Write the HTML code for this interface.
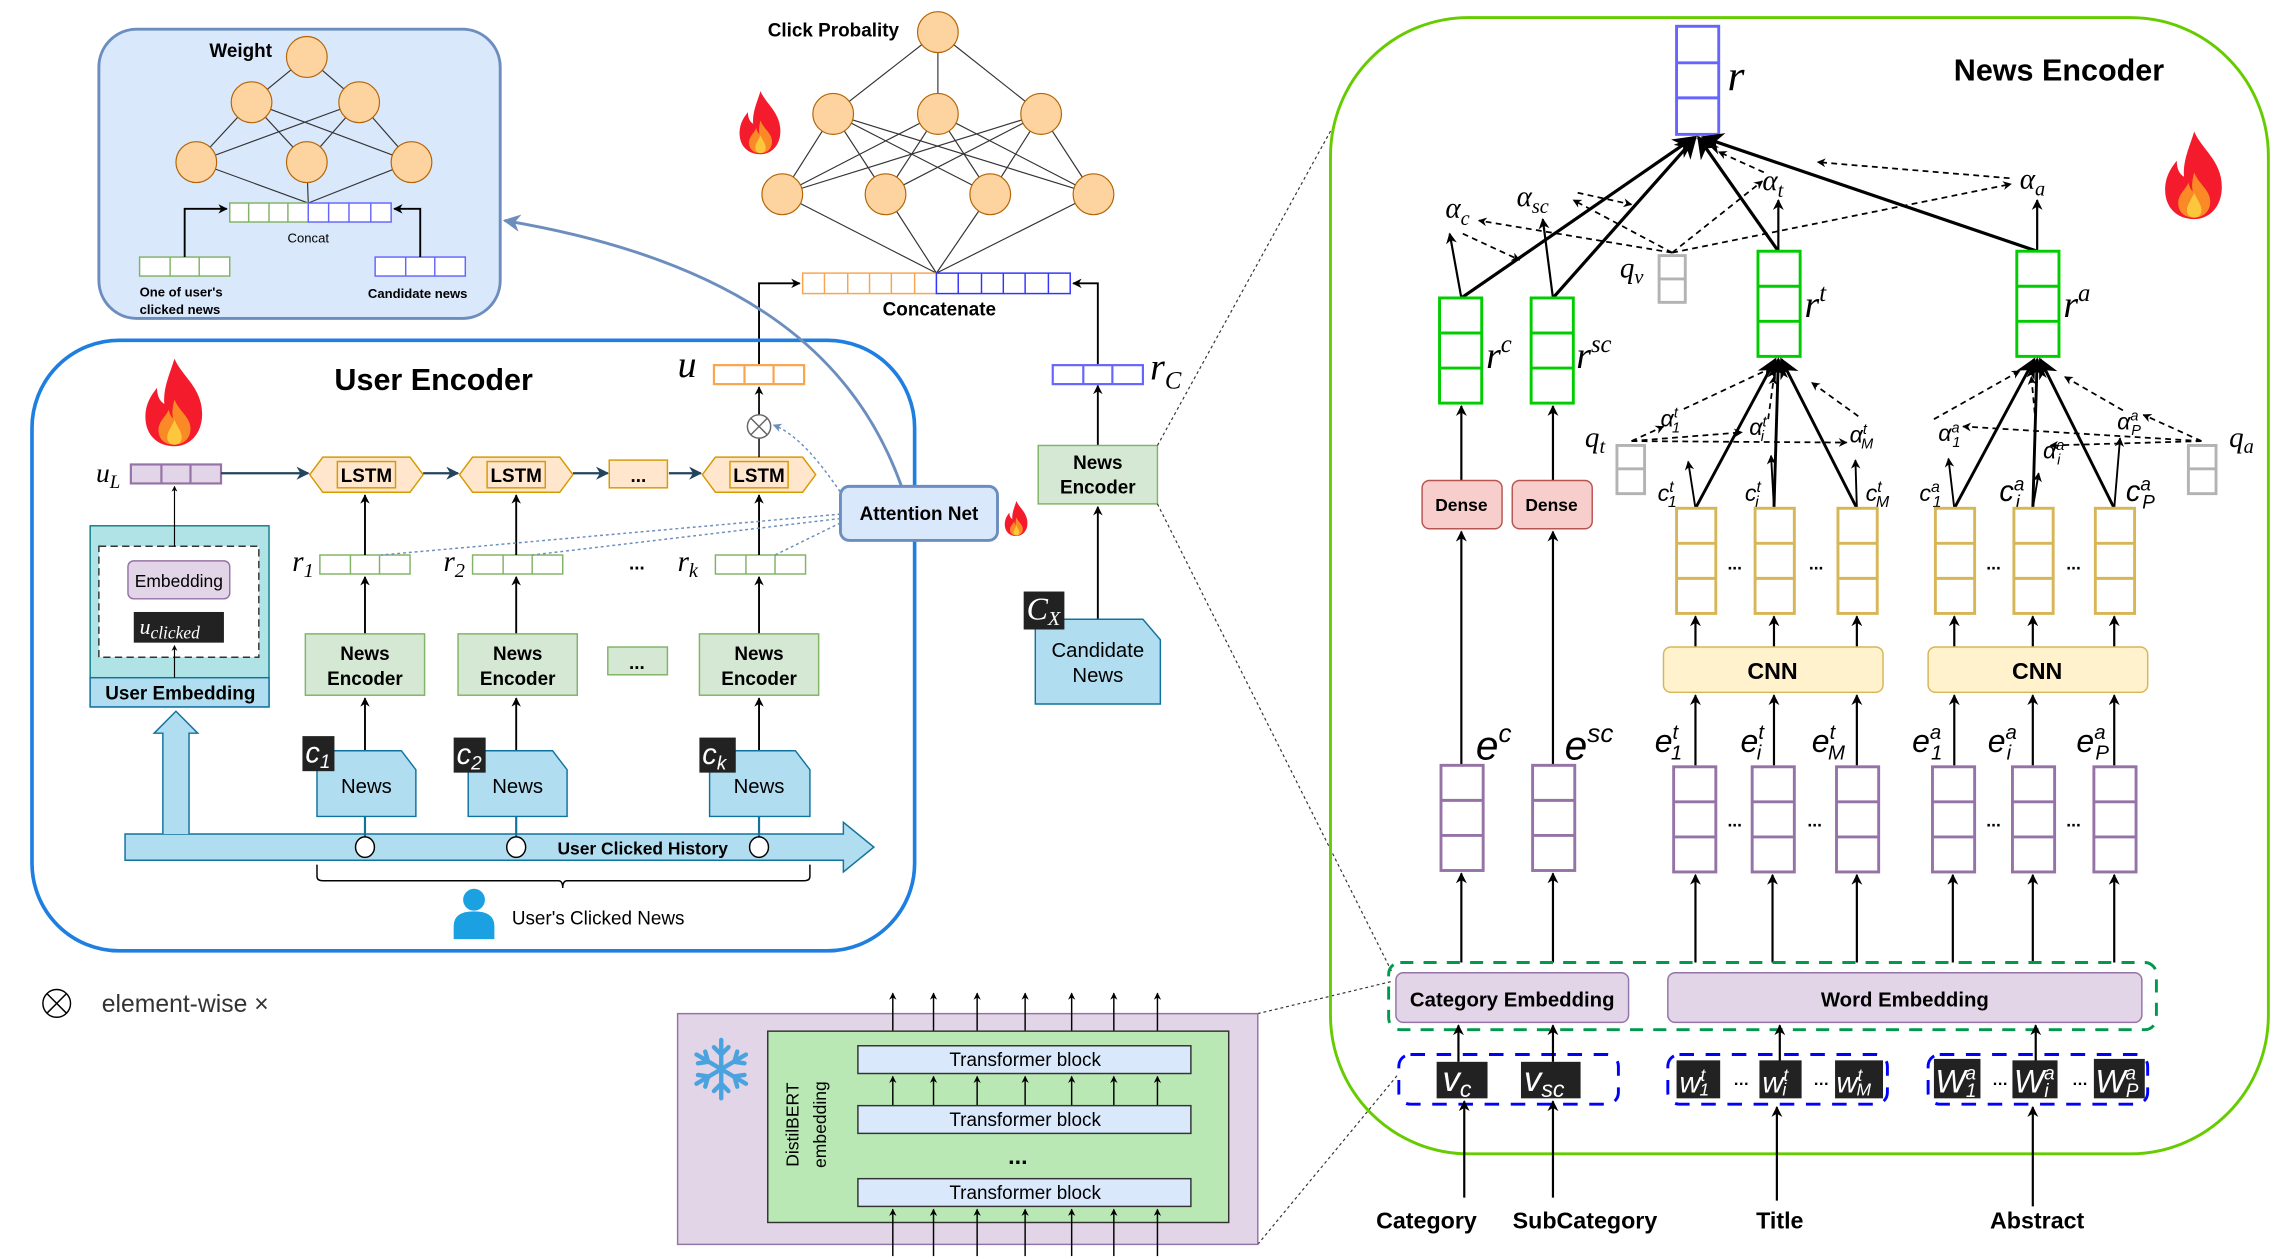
<!DOCTYPE html>
<html><head><meta charset="utf-8"><style>
html,body{margin:0;padding:0;background:#fff;}
svg{display:block;}
text{font-family:"Liberation Sans",sans-serif;}
.b{font-weight:bold;}
.m{font-family:"Liberation Serif",serif;font-style:italic;}
</style></head><body>
<svg width="2280" height="1259" viewBox="0 0 1568 862" preserveAspectRatio="none" xmlns="http://www.w3.org/2000/svg">
<defs>
<marker id="a" viewBox="0 0 10 10" refX="9" refY="5" markerWidth="7" markerHeight="7" orient="auto-start-reverse"><path d="M0,0 L10,5 L0,10 L3,5z" fill="#000"/></marker>
<marker id="as" viewBox="0 0 10 10" refX="9" refY="5" markerWidth="5" markerHeight="5" orient="auto"><path d="M0,0 L10,5 L0,10 L3,5z" fill="#000"/></marker>
<marker id="ab" viewBox="0 0 10 10" refX="9" refY="5" markerWidth="6" markerHeight="6" orient="auto"><path d="M0,0 L10,5 L0,10 L3,5z" fill="#6c8ebf"/></marker>
<marker id="an" viewBox="0 0 10 10" refX="9" refY="5" markerWidth="6" markerHeight="6" orient="auto"><path d="M0,0 L10,5 L0,10 L3,5z" fill="#23445d"/></marker>
<symbol id="fire" viewBox="0 0 50 60">
<path d="M25,0 C30,12 44,20 44,38 C44,52 35,60 25,60 C13,60 5,52 5,40 C5,30 10,24 13,20 C13,27 16,30 18,31 C17,20 22,10 25,0Z" fill="#f41c2c"/>
<path d="M25,28 C28,36 36,40 36,48 C36,55 31,59 25,59 C18,59 14,55 14,49 C14,43 19,40 21,35 C22,39 23,40 24,41 C23,36 24,32 25,28Z" fill="#fa8a25"/>
<path d="M25,42 C27,47 30,50 30,54 C30,57 28,59 25,59 C22,59 20,57 20,54 C20,50 23,47 25,42Z" fill="#fcc73c"/>
</symbol>
</defs>

<!-- Weight box -->
<rect x="68" y="20" width="276" height="198" rx="26" fill="#dae8fc" stroke="#6c8ebf" stroke-width="2"/>
<text x="144" y="39" class="b" font-size="13">Weight</text>
<g stroke="#333" stroke-width="0.8">
<line x1="211" y1="39" x2="173" y2="70"/><line x1="211" y1="39" x2="247" y2="70"/>
<line x1="173" y1="70" x2="135" y2="111"/><line x1="173" y1="70" x2="211" y2="111"/><line x1="173" y1="70" x2="283" y2="111"/>
<line x1="247" y1="70" x2="135" y2="111"/><line x1="247" y1="70" x2="211" y2="111"/><line x1="247" y1="70" x2="283" y2="111"/>
<line x1="135" y1="111" x2="212" y2="139"/><line x1="211" y1="111" x2="212" y2="139"/><line x1="283" y1="111" x2="212" y2="139"/>
</g>
<g fill="#fdd3a0" stroke="#b46504" stroke-width="0.8">
<circle cx="211" cy="39" r="14"/><circle cx="173" cy="70" r="14"/><circle cx="247" cy="70" r="14"/>
<circle cx="135" cy="111" r="14"/><circle cx="211" cy="111" r="14"/><circle cx="283" cy="111" r="14"/>
</g>
<g fill="#fff" stroke="#82b366"><rect x="158" y="139" width="54" height="13"/><line x1="171" y1="139" x2="171" y2="152"/><line x1="185" y1="139" x2="185" y2="152"/><line x1="198" y1="139" x2="198" y2="152"/></g>
<g fill="#fff" stroke="#6666ff"><rect x="212" y="139" width="57" height="13"/><line x1="226" y1="139" x2="226" y2="152"/><line x1="240" y1="139" x2="240" y2="152"/><line x1="255" y1="139" x2="255" y2="152"/></g>
<text x="212" y="166" font-size="9" text-anchor="middle">Concat</text>
<g fill="#fff" stroke="#82b366"><rect x="96" y="176" width="62" height="13"/><line x1="117" y1="176" x2="117" y2="189"/><line x1="137" y1="176" x2="137" y2="189"/></g>
<g fill="#fff" stroke="#6666ff"><rect x="258" y="176" width="62" height="13"/><line x1="279" y1="176" x2="279" y2="189"/><line x1="299" y1="176" x2="299" y2="189"/></g>
<path d="M127,176 V143 H156" fill="none" stroke="#000" stroke-width="1.3" marker-end="url(#as)"/>
<path d="M289,176 V143 H271" fill="none" stroke="#000" stroke-width="1.3" marker-end="url(#as)"/>
<text x="96" y="203" class="b" font-size="9">One of user's</text>
<text x="96" y="215" class="b" font-size="9">clicked news</text>
<text x="253" y="204" class="b" font-size="9">Candidate news</text>

<!-- Click probability -->
<text x="528" y="25" class="b" font-size="13">Click Probality</text>
<g stroke="#333" stroke-width="0.8">
<line x1="645" y1="22" x2="573" y2="78"/><line x1="645" y1="22" x2="645" y2="78"/><line x1="645" y1="22" x2="716" y2="78"/>
<g id="l2">
<line x1="573" y1="78" x2="538" y2="133"/><line x1="573" y1="78" x2="609" y2="133"/><line x1="573" y1="78" x2="681" y2="133"/><line x1="573" y1="78" x2="752" y2="133"/>
<line x1="645" y1="78" x2="538" y2="133"/><line x1="645" y1="78" x2="609" y2="133"/><line x1="645" y1="78" x2="681" y2="133"/><line x1="645" y1="78" x2="752" y2="133"/>
<line x1="716" y1="78" x2="538" y2="133"/><line x1="716" y1="78" x2="609" y2="133"/><line x1="716" y1="78" x2="681" y2="133"/><line x1="716" y1="78" x2="752" y2="133"/>
</g>
<line x1="538" y1="133" x2="644" y2="187"/><line x1="609" y1="133" x2="644" y2="187"/><line x1="681" y1="133" x2="644" y2="187"/><line x1="752" y1="133" x2="644" y2="187"/>
</g>
<g fill="#fdd3a0" stroke="#b46504" stroke-width="0.8">
<circle cx="645" cy="22" r="14"/><circle cx="573" cy="78" r="14"/><circle cx="645" cy="78" r="14"/><circle cx="716" cy="78" r="14"/>
<circle cx="538" cy="133" r="14"/><circle cx="609" cy="133" r="14"/><circle cx="681" cy="133" r="14"/><circle cx="752" cy="133" r="14"/>
</g>
<use href="#fire" x="505" y="60" width="36" height="48"/>
<g fill="#fff" stroke="#f8a54e"><rect x="552" y="187" width="92" height="14"/>
<line x1="567" y1="187" x2="567" y2="201"/><line x1="583" y1="187" x2="583" y2="201"/><line x1="598" y1="187" x2="598" y2="201"/><line x1="613" y1="187" x2="613" y2="201"/><line x1="629" y1="187" x2="629" y2="201"/></g>
<g fill="#fff" stroke="#3333ff"><rect x="644" y="187" width="92" height="14"/>
<line x1="659" y1="187" x2="659" y2="201"/><line x1="675" y1="187" x2="675" y2="201"/><line x1="690" y1="187" x2="690" y2="201"/><line x1="705" y1="187" x2="705" y2="201"/><line x1="721" y1="187" x2="721" y2="201"/></g>
<text x="646" y="216" class="b" font-size="13" text-anchor="middle">Concatenate</text>

<!-- u and rC -->
<path d="M522,250 V194 H550" fill="none" stroke="#000" stroke-width="1.3" marker-end="url(#as)"/>
<path d="M755,305 V264" fill="none" stroke="#000" stroke-width="1.3" marker-end="url(#as)"/>
<path d="M755,250 V194 H738" fill="none" stroke="#000" stroke-width="1.3" marker-end="url(#as)"/>
<g fill="#fff" stroke="#f8a54e" stroke-width="1.5"><rect x="491" y="250" width="62" height="13"/><line x1="512" y1="250" x2="512" y2="263"/><line x1="532" y1="250" x2="532" y2="263"/></g>
<text x="466" y="258" class="m" font-size="26">u</text>
<g fill="#fff" stroke="#6666ff" stroke-width="1.5"><rect x="724" y="250" width="62" height="13"/><line x1="745" y1="250" x2="745" y2="263"/><line x1="765" y1="250" x2="765" y2="263"/></g>
<text x="791" y="260" class="m" font-size="26">r<tspan font-size="17" dy="6">C</tspan></text>

<!-- User encoder -->
<rect x="22" y="233" width="607" height="418" rx="60" fill="none" stroke="#1e7fe0" stroke-width="2.5"/>
<text x="230" y="267" class="b" font-size="21">User Encoder</text>
<use href="#fire" x="95" y="243" width="50" height="65"/>
<text x="66" y="330" class="m" font-size="19">u<tspan font-size="13" dy="4">L</tspan></text>
<g fill="#e1d5e7" stroke="#9673a6" stroke-width="1.5"><rect x="90" y="318" width="62" height="13"/><line x1="111" y1="318" x2="111" y2="331"/><line x1="131" y1="318" x2="131" y2="331"/></g>
<g stroke="#23445d" stroke-width="1.5" fill="none">
<line x1="152" y1="324" x2="212" y2="324" marker-end="url(#an)"/>
<line x1="291" y1="324" x2="315" y2="324" marker-end="url(#an)"/>
<line x1="394" y1="324" x2="418" y2="324" marker-end="url(#an)"/>
<line x1="460" y1="324" x2="482" y2="324" marker-end="url(#an)"/>
</g>
<g fill="#ffe6cc" stroke="#d79b00">
<polygon points="222,313 282,313 291,325 282,337 222,337 213,325"/><rect x="232" y="316" width="40" height="18"/>
<polygon points="325,313 385,313 394,325 385,337 325,337 316,325"/><rect x="335" y="316" width="40" height="18"/>
<polygon points="492,313 552,313 561,325 552,337 492,337 483,325"/><rect x="502" y="316" width="40" height="18"/>
<rect x="419" y="315" width="40" height="19"/>
</g>
<text x="252" y="330" class="b" font-size="13" text-anchor="middle">LSTM</text>
<text x="355" y="330" class="b" font-size="13" text-anchor="middle">LSTM</text>
<text x="522" y="330" class="b" font-size="13" text-anchor="middle">LSTM</text>
<text x="439" y="330" class="b" font-size="13" text-anchor="middle">...</text>
<line x1="522" y1="313" x2="522" y2="300" stroke="#000"/>
<line x1="522" y1="284" x2="522" y2="265" stroke="#000" stroke-width="1.2" marker-end="url(#as)"/>
<circle cx="522" cy="292" r="8" fill="#fff" stroke="#666"/><path d="M516,286 L528,298 M528,286 L516,298" stroke="#666"/>
<!-- r bars -->
<g fill="#fff" stroke="#82b366">
<rect x="220" y="380" width="62" height="13"/><line x1="241" y1="380" x2="241" y2="393"/><line x1="261" y1="380" x2="261" y2="393"/>
<rect x="325" y="380" width="62" height="13"/><line x1="346" y1="380" x2="346" y2="393"/><line x1="366" y1="380" x2="366" y2="393"/>
<rect x="492" y="380" width="62" height="13"/><line x1="513" y1="380" x2="513" y2="393"/><line x1="533" y1="380" x2="533" y2="393"/>
</g>
<text x="201" y="391" class="m" font-size="20">r<tspan font-size="14" dy="4">1</tspan></text>
<text x="305" y="391" class="m" font-size="20">r<tspan font-size="14" dy="4">2</tspan></text>
<text x="466" y="391" class="m" font-size="20">r<tspan font-size="14" dy="4">k</tspan></text>
<text x="438" y="390" class="b" font-size="13" text-anchor="middle">...</text>
<g stroke="#000" stroke-width="1.3" fill="none" marker-end="url(#as)">
<line x1="251" y1="380" x2="251" y2="339"/><line x1="355" y1="380" x2="355" y2="339"/><line x1="522" y1="380" x2="522" y2="339"/>
<line x1="251" y1="434" x2="251" y2="395"/><line x1="355" y1="434" x2="355" y2="395"/><line x1="522" y1="434" x2="522" y2="395"/>
<line x1="251" y1="514" x2="251" y2="478"/><line x1="355" y1="514" x2="355" y2="478"/><line x1="522" y1="514" x2="522" y2="478"/>
</g>
<g fill="#d5e8d4" stroke="#82b366">
<rect x="210" y="434" width="82" height="42"/><rect x="315" y="434" width="82" height="42"/><rect x="481" y="434" width="82" height="42"/><rect x="418" y="443" width="41" height="19"/>
</g>
<g class="b" font-size="13" text-anchor="middle">
<text x="251" y="452">News</text><text x="251" y="469">Encoder</text>
<text x="356" y="452">News</text><text x="356" y="469">Encoder</text>
<text x="522" y="452">News</text><text x="522" y="469">Encoder</text>
<text x="438" y="458">...</text>
</g>
<!-- history -->
<path d="M86,571 H580 V563 L601,580 L580,597 V589 H86Z" fill="#b1ddf0" stroke="#10739e"/>
<g stroke="#10739e" stroke-width="1.5"><line x1="251" y1="559" x2="251" y2="573"/><line x1="355" y1="559" x2="355" y2="573"/><line x1="522" y1="559" x2="522" y2="573"/></g>
<g fill="#fff" stroke="#000"><ellipse cx="251" cy="580" rx="6.5" ry="7"/><ellipse cx="355" cy="580" rx="6.5" ry="7"/><ellipse cx="522" cy="580" rx="6.5" ry="7"/></g>
<text x="442" y="585" class="b" font-size="12" text-anchor="middle">User Clicked History</text>
<g fill="#b1ddf0" stroke="#10739e">
<path d="M218,514 H276 L286,527 V559 H218Z"/><path d="M322,514 H380 L390,527 V559 H322Z"/><path d="M488,514 H547 L557,527 V559 H488Z"/>
</g>
<g font-size="14" text-anchor="middle"><text x="252" y="543">News</text><text x="356" y="543">News</text><text x="522" y="543">News</text></g>
<g fill="#222"><rect x="208" y="504" width="22" height="24"/><rect x="312" y="505" width="22" height="24"/><rect x="481" y="505" width="25" height="24"/></g>
<g fill="#fff" class="m" font-size="20"><text x="210" y="522">c<tspan font-size="13" dy="4">1</tspan></text><text x="314" y="523">c<tspan font-size="13" dy="4">2</tspan></text><text x="483" y="523">c<tspan font-size="13" dy="4">k</tspan></text></g>
<path d="M218,592 V600 Q218,603 222,603 H384 Q387,603 387,608 Q387,603 390,603 H553 Q557,603 557,600 V592" fill="none" stroke="#000" stroke-width="1"/>
<circle cx="326" cy="616" r="7.5" fill="#1ba1e2"/><path d="M312,643 V634 Q312,624 326,624 Q340,624 340,634 V643Z" fill="#1ba1e2"/>
<text x="352" y="633" font-size="13">User's Clicked News</text>
<!-- user embedding -->
<path d="M112,571 V502 H106 L121,487 L136,502 H130 V571" fill="#b1ddf0" stroke="#10739e"/>
<rect x="62" y="360" width="123" height="124" fill="#b0e3e6" stroke="#0e8088"/>
<rect x="62" y="464" width="123" height="20" fill="#b1ddf0" stroke="#10739e"/>
<text x="124" y="479" class="b" font-size="13" text-anchor="middle">User Embedding</text>
<rect x="68" y="374" width="110" height="76" fill="#fff" stroke="#333" stroke-dasharray="5,3"/>
<rect x="88" y="384" width="70" height="26" rx="4" fill="#e1d5e7" stroke="#9673a6"/>
<text x="123" y="402" font-size="12" text-anchor="middle">Embedding</text>
<rect x="92" y="419" width="62" height="21" fill="#222"/>
<text x="96" y="434" class="m" font-size="15" fill="#fff">u<tspan font-size="12" dy="3">clicked</tspan></text>
<line x1="120" y1="464" x2="120" y2="442" stroke="#000" stroke-width="0.8" marker-end="url(#as)"/>
<line x1="120" y1="374" x2="120" y2="333" stroke="#000" stroke-width="0.8" marker-end="url(#as)"/>

<!-- Attention Net -->
<path d="M620,333 C590,250 520,180 347,151" fill="none" stroke="#6c8ebf" stroke-width="2" marker-end="url(#ab)"/>
<g stroke="#6c8ebf" stroke-width="1" stroke-dasharray="2,2" fill="none">
<path d="M580,340 C560,310 545,296 532,291" marker-end="url(#ab)"/>
<line x1="578" y1="352" x2="262" y2="380"/><line x1="578" y1="355" x2="366" y2="380"/><line x1="578" y1="358" x2="533" y2="380"/>
</g>
<rect x="578" y="333" width="108" height="37" rx="6" fill="#dae8fc" stroke="#6c8ebf" stroke-width="2"/>
<text x="632" y="356" class="b" font-size="13" text-anchor="middle">Attention Net</text>
<use href="#fire" x="689" y="342" width="20" height="26"/>
<!-- candidate -->
<rect x="714" y="305" width="82" height="40" fill="#d5e8d4" stroke="#82b366"/>
<text x="755" y="321" class="b" font-size="13" text-anchor="middle">News</text><text x="755" y="338" class="b" font-size="13" text-anchor="middle">Encoder</text>
<line x1="755" y1="424" x2="755" y2="347" stroke="#000" stroke-width="1.3" marker-end="url(#as)"/>
<path d="M712,424 H786 L798,438 V482 H712Z" fill="#b1ddf0" stroke="#10739e"/>
<text x="755" y="450" font-size="14" text-anchor="middle">Candidate</text><text x="755" y="467" font-size="14" text-anchor="middle">News</text>
<rect x="704" y="405" width="28" height="26" fill="#222"/>
<text x="706" y="424" class="m" font-size="22" fill="#fff">C<tspan font-size="14" dy="4">X</tspan></text>
<g stroke="#333" stroke-width="0.8" stroke-dasharray="2,2" fill="none">
<line x1="796" y1="305" x2="916" y2="88"/><line x1="796" y1="345" x2="957" y2="665"/>
<line x1="865" y1="694" x2="957" y2="672"/><line x1="865" y1="852" x2="962" y2="735"/>
</g>

<!-- legend -->
<circle cx="39" cy="687" r="9.5" fill="#fff" stroke="#000"/><path d="M32.3,680.3 L45.7,693.7 M45.7,680.3 L32.3,693.7" stroke="#000"/>
<text x="70" y="693" font-size="17" fill="#333">element-wise ×</text>

<!-- DistilBERT -->
<rect x="466" y="694" width="399" height="158" fill="#e1d5e7" stroke="#9673a6"/>
<g stroke="#000" stroke-width="1" marker-end="url(#as)">
<line x1="614" y1="708" x2="614" y2="680"/><line x1="642" y1="708" x2="642" y2="680"/><line x1="672" y1="708" x2="672" y2="680"/><line x1="705" y1="708" x2="705" y2="680"/><line x1="737" y1="708" x2="737" y2="680"/><line x1="766" y1="708" x2="766" y2="680"/><line x1="796" y1="708" x2="796" y2="680"/>
</g>
<rect x="528" y="706" width="317" height="131" fill="#b9e8b5" stroke="#333"/>
<g stroke="#000" stroke-width="1" marker-end="url(#as)">
<line x1="614" y1="757" x2="614" y2="737"/><line x1="642" y1="757" x2="642" y2="737"/><line x1="672" y1="757" x2="672" y2="737"/><line x1="705" y1="757" x2="705" y2="737"/><line x1="737" y1="757" x2="737" y2="737"/><line x1="766" y1="757" x2="766" y2="737"/><line x1="796" y1="757" x2="796" y2="737"/>
<line x1="614" y1="860" x2="614" y2="828"/><line x1="642" y1="860" x2="642" y2="828"/><line x1="672" y1="860" x2="672" y2="828"/><line x1="705" y1="860" x2="705" y2="828"/><line x1="737" y1="860" x2="737" y2="828"/><line x1="766" y1="860" x2="766" y2="828"/><line x1="796" y1="860" x2="796" y2="828"/>
</g>
<g fill="#dae8fc" stroke="#333"><rect x="590" y="716" width="229" height="19"/><rect x="590" y="757" width="229" height="19"/><rect x="590" y="807" width="229" height="19"/></g>
<g font-size="13" text-anchor="middle"><text x="705" y="730">Transformer block</text><text x="705" y="771">Transformer block</text><text x="705" y="821">Transformer block</text></g>
<text x="700" y="797" class="b" font-size="16" text-anchor="middle">...</text>
<text transform="translate(549,770) rotate(-90)" font-size="12" text-anchor="middle">DistilBERT</text>
<text transform="translate(568,770) rotate(-90)" font-size="12" text-anchor="middle">embedding</text>
<g stroke="#4aa3df" stroke-width="3" stroke-linecap="round" transform="translate(496,732)">
<line x1="0" y1="-20" x2="0" y2="20"/><line x1="-17" y1="-10" x2="17" y2="10"/><line x1="-17" y1="10" x2="17" y2="-10"/>
<path d="M-5,-15 L0,-10 L5,-15 M-5,15 L0,10 L5,15" fill="none"/>
<path d="M-16,-4 L-9,-5 L-11,-12 M16,4 L9,5 L11,12 M16,-4 L9,-5 L11,-12 M-16,4 L-9,5 L-11,12" fill="none"/>
</g>

<!-- News Encoder big -->
<rect x="915" y="12" width="645" height="778" rx="95" fill="none" stroke="#66cc00" stroke-width="2"/>
<text x="1416" y="55" class="b" font-size="21" text-anchor="middle">News Encoder</text>
<use href="#fire" x="1484" y="86" width="50" height="68"/>
<!-- r -->
<g fill="#fff" stroke="#6666ff" stroke-width="2"><rect x="1153" y="18" width="29" height="74"/><line x1="1153" y1="43" x2="1182" y2="43"/><line x1="1153" y1="67" x2="1182" y2="67"/></g>
<text x="1188" y="62" class="m" font-size="30">r</text>
<!-- solid to r -->
<g stroke="#000" stroke-width="2.2" fill="none" marker-end="url(#a)">
<line x1="1005" y1="204" x2="1165" y2="94"/><line x1="1068" y1="204" x2="1166" y2="94"/><line x1="1223" y1="172" x2="1168" y2="94"/><line x1="1401" y1="172" x2="1171" y2="94"/>
</g>
<g stroke="#000" stroke-width="1.5" fill="none" marker-end="url(#as)">
<line x1="1005" y1="204" x2="997" y2="160"/><line x1="1068" y1="204" x2="1061" y2="150"/><line x1="1223" y1="172" x2="1223" y2="137"/><line x1="1401" y1="172" x2="1401" y2="137"/>
</g>
<g stroke="#000" stroke-width="1.2" stroke-dasharray="4,3" fill="none" marker-end="url(#as)">
<line x1="1150" y1="173" x2="1017" y2="151"/><line x1="1150" y1="173" x2="1082" y2="137"/><line x1="1150" y1="173" x2="1212" y2="124"/><line x1="1150" y1="173" x2="1383" y2="126"/>
<line x1="1006" y1="160" x2="1045" y2="178"/><line x1="1085" y1="132" x2="1122" y2="140"/><line x1="1213" y1="118" x2="1182" y2="104"/><line x1="1382" y1="122" x2="1250" y2="111"/>
</g>
<text x="994" y="149" class="m" font-size="20">α<tspan font-size="14" dy="5">c</tspan></text>
<text x="1043" y="141" class="m" font-size="20">α<tspan font-size="14" dy="5">sc</tspan></text>
<text x="1212" y="130" class="m" font-size="20">α<tspan font-size="14" dy="5">t</tspan></text>
<text x="1389" y="129" class="m" font-size="20">α<tspan font-size="14" dy="5">a</tspan></text>
<g fill="#fff" stroke="#b3b3b3" stroke-width="2">
<rect x="1141" y="175" width="18" height="32"/><line x1="1141" y1="191" x2="1159" y2="191"/>
<rect x="1112" y="305" width="19" height="33"/><line x1="1112" y1="321" x2="1131" y2="321"/>
<rect x="1505" y="305" width="19" height="33"/><line x1="1505" y1="321" x2="1524" y2="321"/>
</g>
<text x="1114" y="190" class="m" font-size="20">q<tspan font-size="14" dy="4">v</tspan></text>
<text x="1090" y="306" class="m" font-size="20">q<tspan font-size="14" dy="4">t</tspan></text>
<text x="1533" y="306" class="m" font-size="20">q<tspan font-size="14" dy="4">a</tspan></text>
<!-- green bars -->
<g fill="#fff" stroke="#00cc00" stroke-width="2">
<rect x="990" y="204" width="29" height="72"/><line x1="990" y1="228" x2="1019" y2="228"/><line x1="990" y1="252" x2="1019" y2="252"/>
<rect x="1053" y="204" width="29" height="72"/><line x1="1053" y1="228" x2="1082" y2="228"/><line x1="1053" y1="252" x2="1082" y2="252"/>
<rect x="1209" y="172" width="29" height="72"/><line x1="1209" y1="196" x2="1238" y2="196"/><line x1="1209" y1="220" x2="1238" y2="220"/>
<rect x="1387" y="172" width="29" height="72"/><line x1="1387" y1="196" x2="1416" y2="196"/><line x1="1387" y1="220" x2="1416" y2="220"/>
</g>
<text x="1022" y="252" class="m" font-size="26">r<tspan font-size="17" dy="-11">c</tspan></text>
<text x="1084" y="252" class="m" font-size="26">r<tspan font-size="17" dy="-11">sc</tspan></text>
<text x="1241" y="217" class="m" font-size="26">r<tspan font-size="17" dy="-11">t</tspan></text>
<text x="1419" y="217" class="m" font-size="26">r<tspan font-size="17" dy="-11">a</tspan></text>
<!-- Dense -->
<g stroke="#000" stroke-width="1.5" marker-end="url(#as)">
<line x1="1005" y1="329" x2="1005" y2="278"/><line x1="1068" y1="329" x2="1068" y2="278"/>
<line x1="1005" y1="524" x2="1005" y2="364"/><line x1="1068" y1="524" x2="1068" y2="364"/>
</g>
<g fill="#f8cecc" stroke="#b85450"><rect x="978" y="329" width="55" height="33" rx="5"/><rect x="1040" y="329" width="55" height="33" rx="5"/></g>
<text x="1005" y="350" class="b" font-size="12" text-anchor="middle">Dense</text><text x="1067" y="350" class="b" font-size="12" text-anchor="middle">Dense</text>
<!-- title/abstract attention -->
<g stroke="#000" stroke-width="2" fill="none" marker-end="url(#a)">
<line x1="1166" y1="348" x2="1221" y2="246"/><line x1="1220" y1="348" x2="1223" y2="246"/><line x1="1277" y1="348" x2="1225" y2="246"/>
<line x1="1344" y1="348" x2="1399" y2="246"/><line x1="1398" y1="348" x2="1401" y2="246"/><line x1="1454" y1="348" x2="1403" y2="246"/>
</g>
<g stroke="#000" stroke-width="1.3" fill="none" marker-end="url(#as)">
<line x1="1166" y1="348" x2="1161" y2="316"/><line x1="1220" y1="348" x2="1218" y2="312"/><line x1="1277" y1="348" x2="1276" y2="315"/>
<line x1="1344" y1="348" x2="1340" y2="314"/><line x1="1398" y1="348" x2="1402" y2="324"/><line x1="1454" y1="348" x2="1458" y2="300"/>
</g>
<g stroke="#000" stroke-width="1.2" stroke-dasharray="4,3" fill="none" marker-end="url(#as)">
<line x1="1122" y1="302" x2="1144" y2="292"/><line x1="1122" y1="302" x2="1198" y2="296"/><line x1="1122" y1="302" x2="1270" y2="303"/>
<line x1="1158" y1="280" x2="1218" y2="252"/><line x1="1216" y1="287" x2="1220" y2="258"/><line x1="1278" y1="285" x2="1246" y2="262"/>
<line x1="1514" y1="302" x2="1350" y2="292"/><line x1="1514" y1="302" x2="1410" y2="305"/><line x1="1514" y1="302" x2="1474" y2="284"/>
<line x1="1330" y1="287" x2="1389" y2="254"/><line x1="1400" y1="290" x2="1397" y2="258"/><line x1="1460" y1="281" x2="1420" y2="258"/>
</g>
<g class="m" font-size="16">
<text x="1142" y="292">α<tspan font-size="10" dy="-6">t</tspan><tspan font-size="10" dx="-4" dy="10">1</tspan></text>
<text x="1203" y="298">α<tspan font-size="10" dy="-6">t</tspan><tspan font-size="10" dx="-4" dy="10">i</tspan></text>
<text x="1272" y="303">α<tspan font-size="10" dy="-6">t</tspan><tspan font-size="10" dx="-4" dy="10">M</tspan></text>
<text x="1140" y="343">c<tspan font-size="11" dy="-6">t</tspan><tspan font-size="11" dx="-4" dy="10">1</tspan></text>
<text x="1200" y="343">c<tspan font-size="11" dy="-6">t</tspan><tspan font-size="11" dx="-4" dy="10">i</tspan></text>
<text x="1283" y="343">c<tspan font-size="11" dy="-6">t</tspan><tspan font-size="11" dx="-4" dy="10">M</tspan></text>
<text x="1333" y="302">α<tspan font-size="10" dy="-6">a</tspan><tspan font-size="10" dx="-5" dy="10">1</tspan></text>
<text x="1405" y="314">α<tspan font-size="10" dy="-6">a</tspan><tspan font-size="10" dx="-5" dy="10">i</tspan></text>
<text x="1456" y="294">α<tspan font-size="10" dy="-6">a</tspan><tspan font-size="10" dx="-5" dy="10">P</tspan></text>
<text x="1320" y="343">c<tspan font-size="11" dy="-6">a</tspan><tspan font-size="11" dx="-5" dy="10">1</tspan></text>
<text x="1375" y="343" font-size="20">c<tspan font-size="13" dy="-7">a</tspan><tspan font-size="13" dx="-6" dy="12">i</tspan></text>
<text x="1462" y="343" font-size="20">c<tspan font-size="13" dy="-7">a</tspan><tspan font-size="13" dx="-6" dy="12">P</tspan></text>
</g>
<!-- yellow bars -->
<g fill="#fff" stroke="#d6b656" stroke-width="2">
<rect x="1153" y="348" width="27" height="72"/><line x1="1153" y1="372" x2="1180" y2="372"/><line x1="1153" y1="396" x2="1180" y2="396"/>
<rect x="1207" y="348" width="27" height="72"/><line x1="1207" y1="372" x2="1234" y2="372"/><line x1="1207" y1="396" x2="1234" y2="396"/>
<rect x="1264" y="348" width="27" height="72"/><line x1="1264" y1="372" x2="1291" y2="372"/><line x1="1264" y1="396" x2="1291" y2="396"/>
<rect x="1331" y="348" width="27" height="72"/><line x1="1331" y1="372" x2="1358" y2="372"/><line x1="1331" y1="396" x2="1358" y2="396"/>
<rect x="1385" y="348" width="27" height="72"/><line x1="1385" y1="372" x2="1412" y2="372"/><line x1="1385" y1="396" x2="1412" y2="396"/>
<rect x="1441" y="348" width="27" height="72"/><line x1="1441" y1="372" x2="1468" y2="372"/><line x1="1441" y1="396" x2="1468" y2="396"/>
</g>
<g class="b" font-size="12" text-anchor="middle">
<text x="1193" y="390">...</text><text x="1249" y="390">...</text><text x="1371" y="390">...</text><text x="1426" y="390">...</text>
<text x="1193" y="566">...</text><text x="1248" y="566">...</text><text x="1371" y="566">...</text><text x="1426" y="566">...</text>
</g>
<g stroke="#000" stroke-width="1.5" marker-end="url(#as)">
<line x1="1166" y1="443" x2="1166" y2="422"/><line x1="1220" y1="443" x2="1220" y2="422"/><line x1="1277" y1="443" x2="1277" y2="422"/>
<line x1="1344" y1="443" x2="1344" y2="422"/><line x1="1398" y1="443" x2="1398" y2="422"/><line x1="1454" y1="443" x2="1454" y2="422"/>
<line x1="1166" y1="524" x2="1166" y2="476"/><line x1="1220" y1="524" x2="1220" y2="476"/><line x1="1277" y1="524" x2="1277" y2="476"/>
<line x1="1344" y1="524" x2="1344" y2="476"/><line x1="1398" y1="524" x2="1398" y2="476"/><line x1="1454" y1="524" x2="1454" y2="476"/>
</g>
<g fill="#fff2cc" stroke="#d6b656"><rect x="1144" y="443" width="151" height="31" rx="5"/><rect x="1326" y="443" width="151" height="31" rx="5"/></g>
<text x="1219" y="465" class="b" font-size="16" text-anchor="middle">CNN</text><text x="1401" y="465" class="b" font-size="16" text-anchor="middle">CNN</text>
<!-- e bars -->
<g fill="#fff" stroke="#9673a6" stroke-width="2">
<rect x="991" y="524" width="29" height="72"/><line x1="991" y1="548" x2="1020" y2="548"/><line x1="991" y1="572" x2="1020" y2="572"/>
<rect x="1054" y="524" width="29" height="72"/><line x1="1054" y1="548" x2="1083" y2="548"/><line x1="1054" y1="572" x2="1083" y2="572"/>
<rect x="1151" y="525" width="29" height="72"/><line x1="1151" y1="549" x2="1180" y2="549"/><line x1="1151" y1="573" x2="1180" y2="573"/>
<rect x="1205" y="525" width="29" height="72"/><line x1="1205" y1="549" x2="1234" y2="549"/><line x1="1205" y1="573" x2="1234" y2="573"/>
<rect x="1263" y="525" width="29" height="72"/><line x1="1263" y1="549" x2="1292" y2="549"/><line x1="1263" y1="573" x2="1292" y2="573"/>
<rect x="1329" y="525" width="29" height="72"/><line x1="1329" y1="549" x2="1358" y2="549"/><line x1="1329" y1="573" x2="1358" y2="573"/>
<rect x="1384" y="525" width="29" height="72"/><line x1="1384" y1="549" x2="1413" y2="549"/><line x1="1384" y1="573" x2="1413" y2="573"/>
<rect x="1440" y="525" width="29" height="72"/><line x1="1440" y1="549" x2="1469" y2="549"/><line x1="1440" y1="573" x2="1469" y2="573"/>
</g>
<g class="m">
<text x="1015" y="520" font-size="28">e<tspan font-size="18" dy="-12">c</tspan></text>
<text x="1076" y="520" font-size="28">e<tspan font-size="18" dy="-12">sc</tspan></text>
<text x="1138" y="515" font-size="22">e<tspan font-size="14" dy="-9">t</tspan><tspan font-size="14" dx="-5" dy="14">1</tspan></text>
<text x="1197" y="515" font-size="22">e<tspan font-size="14" dy="-9">t</tspan><tspan font-size="14" dx="-5" dy="14">i</tspan></text>
<text x="1246" y="515" font-size="22">e<tspan font-size="14" dy="-9">t</tspan><tspan font-size="14" dx="-5" dy="14">M</tspan></text>
<text x="1315" y="515" font-size="22">e<tspan font-size="14" dy="-9">a</tspan><tspan font-size="14" dx="-7" dy="14">1</tspan></text>
<text x="1367" y="515" font-size="22">e<tspan font-size="14" dy="-9">a</tspan><tspan font-size="14" dx="-7" dy="14">i</tspan></text>
<text x="1428" y="515" font-size="22">e<tspan font-size="14" dy="-9">a</tspan><tspan font-size="14" dx="-7" dy="14">P</tspan></text>
</g>
<g stroke="#000" stroke-width="1.5" marker-end="url(#as)">
<line x1="1005" y1="659" x2="1005" y2="598"/><line x1="1068" y1="659" x2="1068" y2="598"/>
<line x1="1166" y1="659" x2="1166" y2="599"/><line x1="1219" y1="659" x2="1219" y2="599"/><line x1="1277" y1="659" x2="1277" y2="599"/>
<line x1="1343" y1="659" x2="1343" y2="599"/><line x1="1398" y1="659" x2="1398" y2="599"/><line x1="1454" y1="659" x2="1454" y2="599"/>
</g>
<!-- embeddings -->
<rect x="955" y="659" width="528" height="46" rx="8" fill="none" stroke="#00994d" stroke-width="2" stroke-dasharray="9,7"/>
<g fill="#e1d5e7" stroke="#9673a6"><rect x="960" y="666" width="160" height="34" rx="5"/><rect x="1147" y="666" width="326" height="34" rx="5"/></g>
<text x="1040" y="689" class="b" font-size="14" text-anchor="middle">Category Embedding</text>
<text x="1310" y="689" class="b" font-size="14" text-anchor="middle">Word Embedding</text>
<g fill="none" stroke="#0000ff" stroke-width="2" stroke-dasharray="10,8">
<rect x="962" y="722" width="151" height="34" rx="8"/><rect x="1147" y="722" width="151" height="34" rx="8"/><rect x="1326" y="722" width="151" height="34" rx="8"/>
</g>
<g stroke="#000" stroke-width="1.5" marker-end="url(#as)">
<line x1="1003" y1="727" x2="1003" y2="702"/><line x1="1068" y1="727" x2="1068" y2="702"/><line x1="1224" y1="727" x2="1224" y2="702"/><line x1="1400" y1="727" x2="1400" y2="702"/>
<line x1="1007" y1="820" x2="1007" y2="754"/><line x1="1068" y1="820" x2="1068" y2="754"/><line x1="1222" y1="822" x2="1222" y2="758"/><line x1="1398" y1="826" x2="1398" y2="758"/>
</g>
<g fill="#222"><rect x="988" y="727" width="35" height="25"/><rect x="1046" y="727" width="41" height="25"/>
<rect x="1153" y="726" width="30" height="26"/><rect x="1210" y="726" width="29" height="26"/><rect x="1262" y="726" width="33" height="26"/>
<rect x="1330" y="725" width="32" height="27"/><rect x="1384" y="726" width="31" height="26"/><rect x="1440" y="725" width="35" height="27"/></g>
<g fill="#fff" class="m">
<text x="992" y="747" font-size="24">v<tspan font-size="16" dy="4">c</tspan></text>
<text x="1048" y="747" font-size="24">v<tspan font-size="16" dy="4">sc</tspan></text>
<text x="1155" y="748" font-size="20">w<tspan font-size="12" dy="-8">t</tspan><tspan font-size="12" dx="-4" dy="10">1</tspan></text>
<text x="1212" y="748" font-size="20">w<tspan font-size="12" dy="-8">t</tspan><tspan font-size="12" dx="-4" dy="10">i</tspan></text>
<text x="1263" y="748" font-size="20">w<tspan font-size="12" dy="-8">t</tspan><tspan font-size="12" dx="-4" dy="10">M</tspan></text>
<text x="1331" y="748" font-size="22">W<tspan font-size="13" dy="-9">a</tspan><tspan font-size="13" dx="-7" dy="12">1</tspan></text>
<text x="1385" y="748" font-size="22">W<tspan font-size="13" dy="-9">a</tspan><tspan font-size="13" dx="-7" dy="12">i</tspan></text>
<text x="1441" y="748" font-size="22">W<tspan font-size="13" dy="-9">a</tspan><tspan font-size="13" dx="-7" dy="12">P</tspan></text>
</g>
<g class="b" font-size="11"><text x="1192" y="743">…</text><text x="1247" y="743">…</text><text x="1370" y="743">…</text><text x="1425" y="743">…</text></g>
<g class="b" font-size="16" text-anchor="middle">
<text x="981" y="841">Category</text><text x="1090" y="841">SubCategory</text><text x="1224" y="841">Title</text><text x="1401" y="841">Abstract</text>
</g>
</svg>
</body></html>
